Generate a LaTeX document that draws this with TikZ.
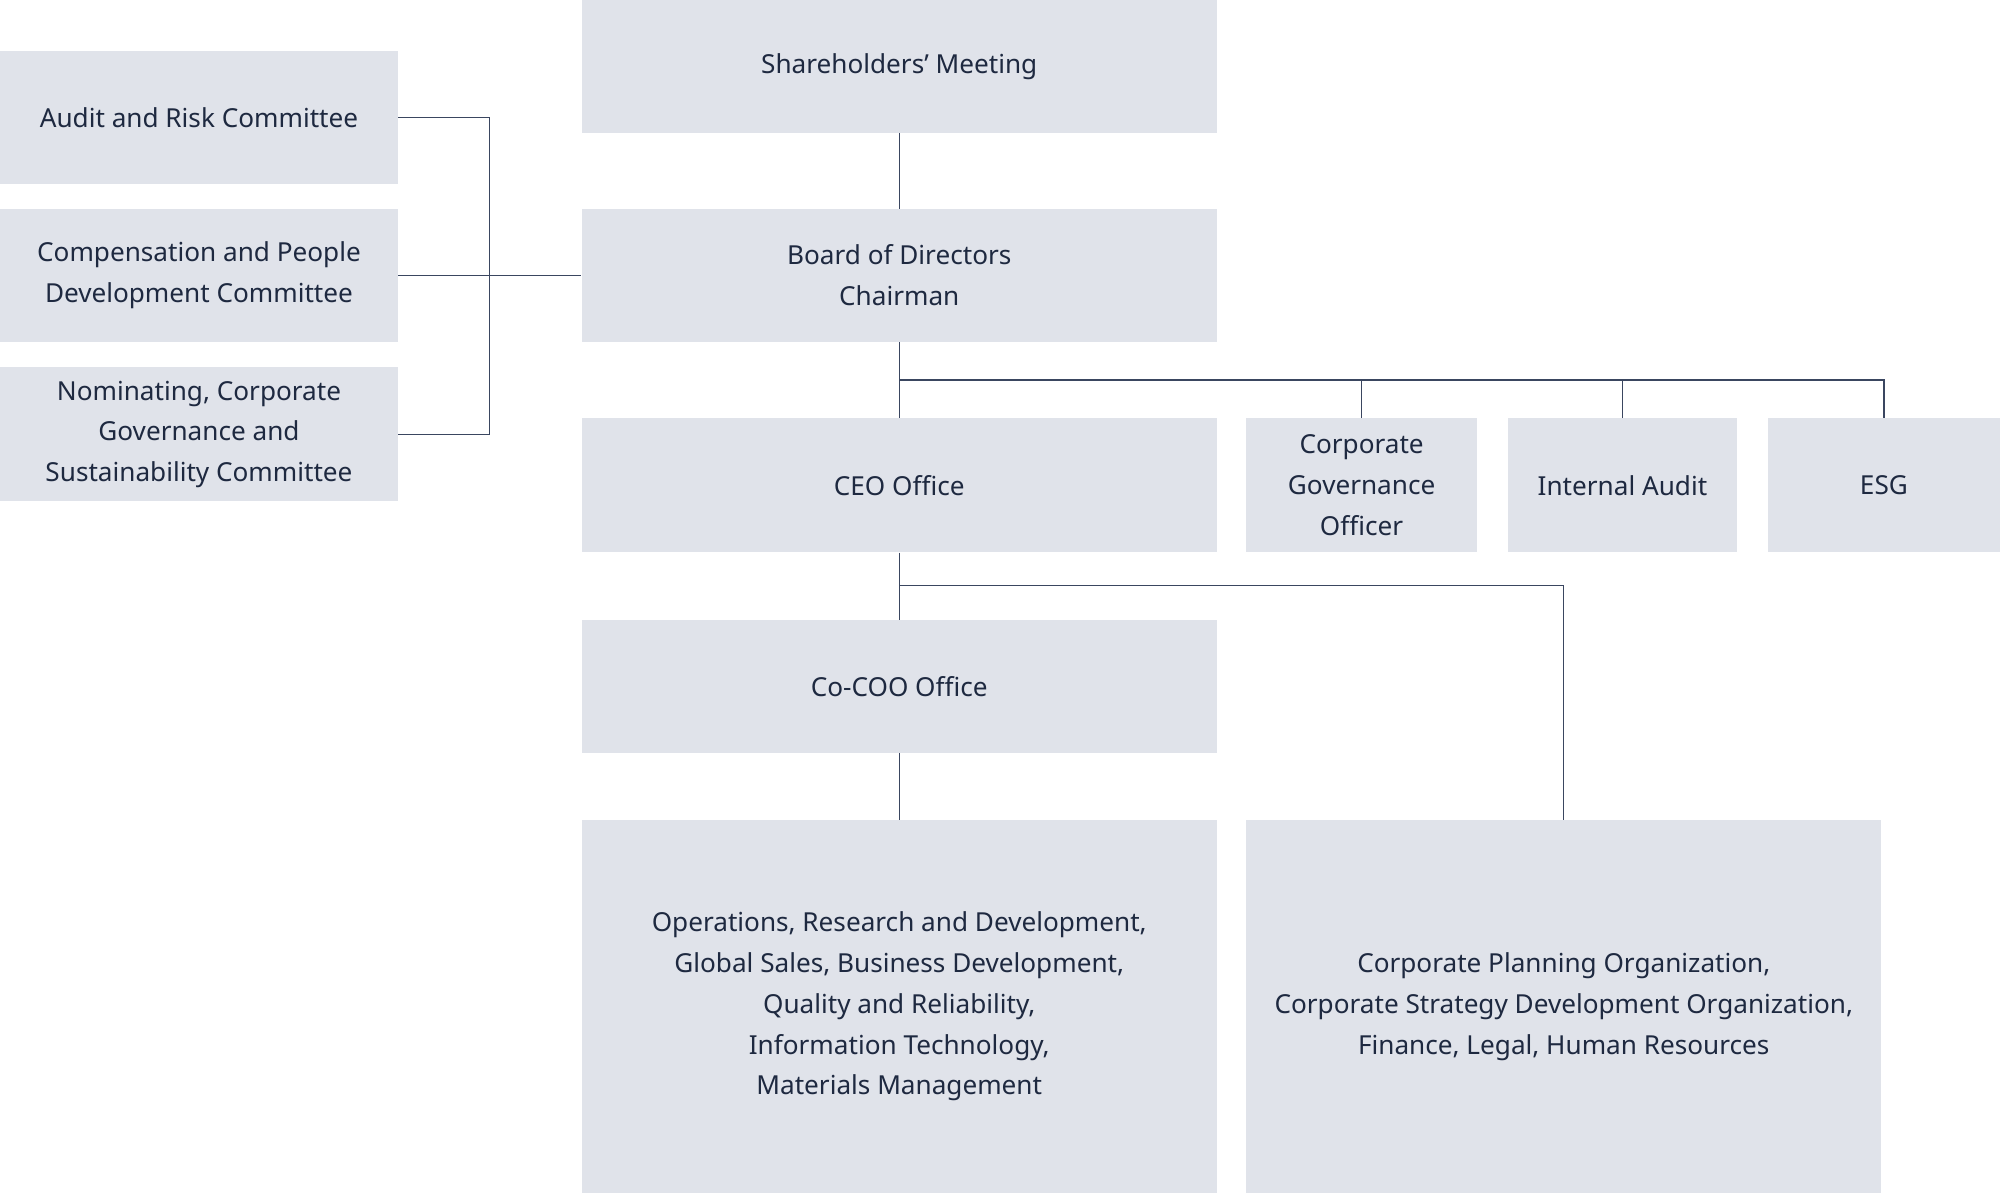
\documentclass[tikz,border=0pt]{standalone}
\usepackage{fontspec}
\setmainfont{Noto Sans}
\begin{document}
\begin{tikzpicture}[x=1pt,y=-1pt,
 box/.style={fill=boxc,draw=none,inner sep=0pt,align=center,font=\fontsize{20.5}{32}\selectfont,text=txtc},
 ln/.style={draw=linec,line width=1pt}]
\definecolor{boxc}{HTML}{E0E3EA}
\definecolor{linec}{HTML}{3A4660}
\definecolor{txtc}{HTML}{1E2940}
\useasboundingbox (0,0) rectangle (1568,940);
\newcommand{\bx}[6]{\node[box,minimum width=#4-#2,minimum height=#5-#3] (#1) at ({(#2+#4)/2},{(#3+#5)/2}) {#6};}
\bx{sh}{456}{0}{954}{104}{Shareholders’ Meeting}
\bx{bd}{456}{164}{954}{268}{Board of Directors\\Chairman}
\bx{au}{0}{40}{312}{144}{Audit and Risk Committee}
\bx{cp}{0}{164}{312}{268}{\fontsize{20.5}{27}\selectfont Compensation and People\\Development Committee}
\bx{nm}{0}{288}{312}{393}{Nominating, Corporate\\Governance and\\Sustainability Committee}
\bx{ceo}{456}{328}{954}{433}{CEO Office}
\bx{cgo}{977}{328}{1158}{433}{Corporate\\Governance\\Officer}
\bx{ia}{1182}{328}{1362}{433}{Internal Audit}
\bx{esg}{1386}{328}{1568}{433}{ESG}
\bx{coo}{456}{486}{954}{590}{Co-COO Office}
\bx{ops}{456}{643}{954}{935}{\fontsize{20.5}{34}\selectfont Operations, Research and Development,\\Global Sales, Business Development,\\Quality and Reliability,\\Information Technology,\\Materials Management}
\bx{corp}{977}{643}{1475}{935}{\fontsize{20.5}{34}\selectfont Corporate Planning Organization,\\Corporate Strategy Development Organization,\\Finance, Legal, Human Resources}
\coordinate (br) at (384,216);
\draw[ln] (sh.south) -- (bd.north);
\draw[ln] (au.east) -| (br);
\draw[ln] (nm.east) -| (br);
\draw[ln] (cp.east) -- (bd.west);
\draw[ln] (bd.south) -- (ceo.north);
\draw[ln] (705,298) -| (esg.north);
\draw[ln] (cgo.north) -- ++(0,-30);
\draw[ln] (ia.north) -- ++(0,-30);
\draw[ln] (ceo.south) -- (coo.north);
\draw[ln] (705,459) -| (corp.north);
\draw[ln] (coo.south) -- (ops.north);
\end{tikzpicture}
\end{document}
